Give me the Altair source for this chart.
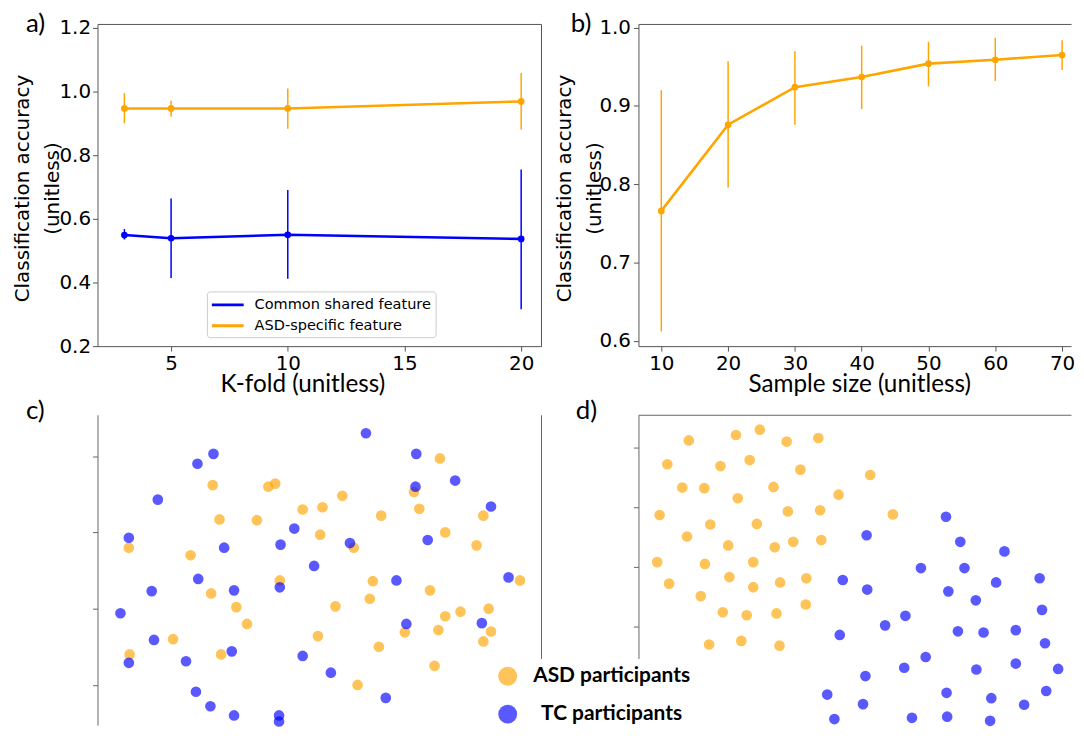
import altair as alt
import pandas as pd

BLUE = "#0000FF"
ORANGE = "#FFA500"
FRAME = "#555555"

# ---------------- Panel a: K-fold ----------------
kfold = [3, 5, 10, 20]
common_mean = [0.549, 0.539, 0.550, 0.537]
common_low = [0.535, 0.414, 0.412, 0.316]
common_high = [0.568, 0.664, 0.691, 0.755]
asd_mean = [0.947, 0.947, 0.947, 0.969]
asd_low = [0.900, 0.921, 0.883, 0.881]
asd_high = [0.995, 0.971, 1.010, 1.058]
series_names = ["Common shared feature", "ASD-specific feature"]

# ---------------- Panel b: sample size ----------------
sample_size = [10, 20, 30, 40, 50, 60, 70]
b_mean = [0.766, 0.876, 0.924, 0.937, 0.954, 0.959, 0.965]
b_low = [0.612, 0.796, 0.876, 0.896, 0.925, 0.932, 0.946]
b_high = [0.920, 0.957, 0.970, 0.977, 0.982, 0.987, 0.984]

# ---------------- Panel c: mixed embedding ----------------
c_asd_x = [16.0, -13.8, -6.5, -5.6, 3.2, 12.6, -2.0, 0.6, -12.9, -8.0, 8.3, 13.3, 21.7, 16.7,
           0.3, -24.8, 4.7, 20.8, -16.7, -5.0, 7.2, 26.5, -14.0, 14.7, 6.8, -10.7, 2.3, 22.4,
           18.7, 16.7, -9.3, 11.4, 15.8, 22.7, -19.0, 0.0, 21.7, -24.7, -12.7, 8.0, 15.3, 5.2]
c_asd_y = [19.7, 16.2, 16.0, 16.4, 14.8, 15.3, 13.0, 13.3, 11.7, 11.6, 12.2, 13.1, 12.2, 10.0,
           9.7, 8.0, 8.0, 8.3, 7.0, 3.7, 3.6, 3.7, 2.0, 2.4, 1.3, 0.2, 0.3, 0.0,
           -0.4, -1.0, -2.0, -3.1, -2.8, -3.0, -4.0, -3.6, -4.3, -6.0, -6.0, -5.0, -7.5, -10.0]
c_tc_x = [6.3, -13.7, -15.8, 12.9, 18.0, 12.8, -21.0, 22.7, -24.8, -3.1, -12.3, -4.9, 4.2, 14.4,
          -0.5, -15.7, -21.8, -11.0, -5.0, 10.3, 25.0, -25.9, 11.6, 21.5, -21.5, -11.3, -24.8,
          -17.3, -2.0, 1.7, -16.0, -14.1, -11.0, -5.1, -5.1, 8.9]
c_tc_y = [23.0, 20.3, 19.0, 20.3, 16.8, 16.0, 14.3, 13.4, 9.3, 10.5, 8.0, 8.4, 8.6, 9.0,
          5.6, 3.9, 2.3, 2.4, 2.8, 3.7, 4.1, -0.6, -2.0, -1.9, -4.1, -5.6, -7.1,
          -6.9, -6.2, -8.4, -10.9, -12.8, -14.0, -14.0, -14.8, -11.7]

# ---------------- Panel d: separated embedding ----------------
d_asd_x = [-27.5, -19.6, -15.6, -11.1, -5.8, -31.1, -22.2, -17.3, -8.8, 2.9, -28.6, -24.9, -13.3,
           -19.3, -2.4, -32.4, -10.9, -5.5, 6.7, -23.9, -16.1, -27.8, -20.9, -13.1, -10.0, -5.3,
           -32.8, -24.8, -16.7, -30.8, -20.7, -16.7, -12.2, -7.8, -25.5, -21.8, -17.8, -12.8,
           -7.9, -24.1, -18.7, -12.3]
d_asd_y = [21.2, 22.1, 23.0, 21.0, 21.6, 17.2, 16.9, 17.9, 16.3, 15.4, 13.3, 13.2, 13.4,
           11.5, 12.1, 8.7, 9.3, 9.5, 8.8, 7.1, 7.2, 5.1, 3.6, 3.3, 4.2, 4.5,
           0.8, 0.5, 0.8, -2.8, -1.7, -3.4, -2.6, -1.9, -4.9, -7.6, -8.1, -7.8,
           -6.3, -13.0, -12.4, -13.2]
d_tc_x = [15.6, 2.3, 18.0, 25.4, 11.4, 18.7, -1.7, 2.4, 24.0, 31.3, 16.0, 20.6, 31.7, 8.8, 5.4,
          -2.2, 17.6, 21.9, 27.3, 32.2, 12.2, 8.6, 20.7, 27.3, 34.4, 2.1, -4.3, 15.7, 23.2,
          32.4, 1.7, 28.7, -3.1, 9.9, 15.8, 23.0]
d_tc_y = [8.4, 5.3, 4.2, 2.6, -0.2, -0.2, -2.2, -3.8, -2.6, -1.9, -4.1, -5.6, -7.2, -8.2, -9.8,
          -11.4, -10.8, -11.0, -10.6, -12.8, -15.1, -16.9, -17.2, -16.2, -17.1, -18.3, -21.4,
          -21.1, -22.0, -20.8, -23.0, -23.1, -25.5, -25.3, -25.1, -25.8]
groups = ["ASD participants", "TC participants"]


def panel_title(text, dx, dy):
    return alt.TitleParams(text=text, anchor="start", frame="group", font="Lato", fontSize=26,
                           fontWeight="normal", color="black", dx=dx, dy=dy, offset=0,
                           baseline="alphabetic")


ytitle = ["Classification accuracy", "(unitless)"]

# ================= Panel a =================
df_a = pd.DataFrame({
    "k": kfold * 2,
    "acc": common_mean + asd_mean,
    "lo": common_low + asd_low,
    "hi": common_high + asd_high,
    "series": [series_names[0]] * len(kfold) + [series_names[1]] * len(kfold),
})
sx_a = alt.Scale(domain=[1.847, 20.85], nice=False, zero=False)
sy_a = alt.Scale(domain=[0.2, 1.2125], nice=False, zero=False)
col_a = alt.Scale(domain=series_names, range=[BLUE, ORANGE])
ax_ax = alt.Axis(values=[5, 10, 15, 20], format="d", domain=False, labelPadding=2,
                 title="K-fold (unitless)", titleFont="Lato", titleFontSize=24.4,
                 titleFontWeight="normal", titleX=206, titleY=27, titleBaseline="top")
ax_ay = alt.Axis(values=[0.2, 0.4, 0.6, 0.8, 1.0, 1.2], format=".1f", domain=False, title=ytitle,
                 titleFont="DejaVu Sans", titleFontSize=20, titleFontWeight="normal",
                 titleLineHeight=30, titleX=-65, titleY=165, titleBaseline="bottom",
                 labelPadding=2)
legend_a = alt.Legend(title=None, orient="none", legendX=110, legendY=269, direction="vertical",
                      symbolType="M-2,0L2,0", symbolSize=256, symbolStrokeWidth=3,
                      symbolOffset=7.5, labelFont="DejaVu Sans", labelFontSize=14.6,
                      labelColor="black", labelOffset=17.5, rowPadding=4, padding=4,
                      fillColor="white", strokeColor="#cccccc", cornerRadius=3, labelLimit=300)

line_a = alt.Chart(df_a).mark_line(strokeWidth=2.6).encode(
    x=alt.X("k:Q", scale=sx_a, axis=ax_ax),
    y=alt.Y("acc:Q", scale=sy_a, axis=ax_ay),
    color=alt.Color("series:N", scale=col_a, legend=legend_a),
)
pts_a = alt.Chart(df_a).mark_circle(size=45, opacity=1).encode(
    x=alt.X("k:Q", scale=sx_a, axis=ax_ax),
    y=alt.Y("acc:Q", scale=sy_a, axis=ax_ay),
    color=alt.Color("series:N", scale=col_a, legend=None),
)
err_a = alt.Chart(df_a).mark_rule(strokeWidth=1.5).encode(
    x=alt.X("k:Q", scale=sx_a, axis=ax_ax),
    y=alt.Y("lo:Q", scale=sy_a, axis=ax_ay),
    y2="hi:Q",
    color=alt.Color("series:N", scale=col_a, legend=None),
)
panel_a = alt.layer(line_a, err_a, pts_a).properties(
    width=446, height=324, title=panel_title("a)", -72, 40))

# ================= Panel b =================
df_b = pd.DataFrame({"n": sample_size, "acc": b_mean, "lo": b_low, "hi": b_high})
sx_b = alt.Scale(domain=[6.58, 71.34], nice=False, zero=False)
sy_b = alt.Scale(domain=[0.5933, 1.0047], nice=False, zero=False)
ax_by = alt.Axis(values=[0.6, 0.7, 0.8, 0.9, 1.0], format=".1f", domainColor=FRAME, title=ytitle,
                 titleFont="DejaVu Sans", titleFontSize=20, titleFontWeight="normal",
                 titleLineHeight=30, titleX=-64, titleY=165, titleBaseline="bottom")
line_b = alt.Chart(df_b).mark_line(strokeWidth=2.6, color=ORANGE).encode(
    x=alt.X("n:Q", scale=sx_b, axis=alt.Axis(values=sample_size, format="d", domainColor=FRAME,
                                            labelPadding=2,
                                            title="Sample size (unitless)", titleFont="Lato",
                                            titleFontSize=24.4, titleFontWeight="normal",
                                            titleX=222, titleY=27, titleBaseline="top")),
    y=alt.Y("acc:Q", scale=sy_b, axis=ax_by),
)
pts_b = alt.Chart(df_b).mark_circle(size=45, opacity=1, color=ORANGE).encode(
    x=alt.X("n:Q", scale=sx_b, axis=None),
    y=alt.Y("acc:Q", scale=sy_b, axis=ax_by),
)
err_b = alt.Chart(df_b).mark_rule(strokeWidth=1.5, color=ORANGE).encode(
    x=alt.X("n:Q", scale=sx_b, axis=None),
    y=alt.Y("lo:Q", scale=sy_b, axis=ax_by),
    y2="hi:Q",
)
top_b = alt.Chart(df_b).mark_circle(opacity=0).encode(
    x=alt.X("n:Q", scale=sx_b, axis=alt.Axis(orient="top", labels=False, ticks=False, title=None,
                                            domainColor=FRAME)),
    y=alt.Y("acc:Q", scale=sy_b, axis=ax_by),
)
panel_b = alt.layer(line_b, err_b, pts_b, top_b).resolve_axis(x="independent").properties(
    width=435, height=324, view=alt.ViewBackground(stroke="transparent"),
    title=panel_title("b)", -68, 40))

# ================= Panel c =================
df_c = pd.DataFrame({
    "x": c_asd_x + c_tc_x,
    "y": c_asd_y + c_tc_y,
    "group": [groups[0]] * len(c_asd_x) + [groups[1]] * len(c_tc_x),
})
sx_c = alt.Scale(domain=[-28.91, 29.26], nice=False, zero=False)
sy_c = alt.Scale(domain=[-15.26, 25.43], nice=False, zero=False)
col_g = alt.Scale(domain=groups, range=[ORANGE, BLUE])
pts_c = alt.Chart(df_c).mark_circle(size=115, opacity=0.65).encode(
    x=alt.X("x:Q", scale=sx_c, axis=alt.Axis(orient="top", labels=False, ticks=False, title=None,
                                            domainColor="#666666")),
    y=alt.Y("y:Q", scale=sy_c, axis=alt.Axis(values=[-10, 0, 10, 20], labels=False, title=None,
                                            domainColor="#666666", tickColor="#666666")),
    color=alt.Color("group:N", scale=col_g, legend=None),
)
right_c = alt.Chart(df_c).mark_circle(opacity=0).encode(
    x=alt.X("x:Q", scale=sx_c, axis=None),
    y=alt.Y("y:Q", scale=sy_c, axis=alt.Axis(orient="right", labels=False, ticks=False, title=None,
                                            domainColor="#666666")),
)
panel_c = alt.layer(pts_c, right_c).resolve_axis(y="independent").properties(
    width=446, height=312, view=alt.ViewBackground(stroke="transparent"),
    title=panel_title("c)", -72, 30))

# ================= Panel d =================
df_d = pd.DataFrame({
    "x": d_asd_x + d_tc_x,
    "y": d_asd_y + d_tc_y,
    "group": [groups[0]] * len(d_asd_x) + [groups[1]] * len(d_tc_x),
})
sx_d = alt.Scale(domain=[-35.94, 36.56], nice=False, zero=False)
sy_d = alt.Scale(domain=[-26.5, 25.5], nice=False, zero=False)
legend_d = alt.Legend(title=None, orient="none", legendX=-149, legendY=245.5, direction="vertical",
                      symbolType="circle", symbolSize=361, symbolStrokeWidth=0, symbolOpacity=0.65,
                      labelFont="Lato", labelFontWeight="bold", labelFontSize=21,
                      labelColor="black", labelAlign="center", labelOffset=94, rowPadding=16,
                      padding=7, fillColor="white", labelLimit=400, zindex=2)
panel_d = alt.Chart(df_d).mark_circle(size=115, opacity=0.65).encode(
    x=alt.X("x:Q", scale=sx_d, axis=alt.Axis(orient="top", labels=False, ticks=False, title=None,
                                            domainColor="#666666")),
    y=alt.Y("y:Q", scale=sy_d, axis=alt.Axis(values=[-10, 0, 10, 20], labels=False, title=None,
                                            domainColor="#666666", tickColor="#666666")),
    color=alt.Color("group:N", scale=col_g, legend=legend_d),
).properties(width=435, height=312, view=alt.ViewBackground(stroke="transparent"),
             title=panel_title("d)", -63, 30))

chart = alt.concat(panel_a, panel_b, panel_c, panel_d, columns=2,
                   spacing={"row": 69, "column": 98}, bounds="flush").resolve_scale(
    color="independent").resolve_legend(color="independent").properties(
    padding={"left": 4, "top": 0, "right": 0, "bottom": 0}
).configure_view(stroke=FRAME, strokeWidth=1).configure_axis(
    grid=False, labelFont="DejaVu Sans", labelFontSize=20, labelColor="black",
    tickColor=FRAME, domainColor=FRAME, tickSize=5, labelPadding=3, titleColor="black"
).configure_title(font="Lato", fontWeight="normal", color="black")

chart.save("out.html", embed_options={"renderer": "svg", "actions": False})
